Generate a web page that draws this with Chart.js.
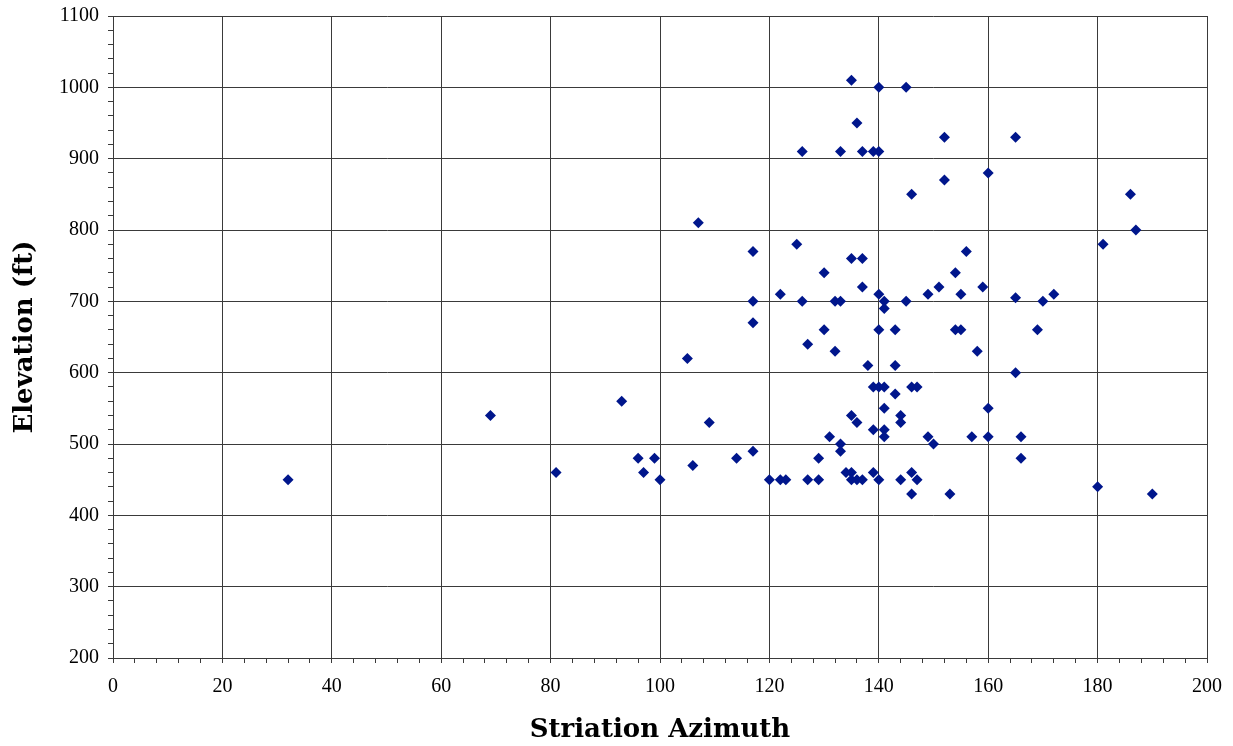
<!DOCTYPE html>
<html>
<head>
<meta charset="utf-8">
<script src="https://cdn.jsdelivr.net/npm/chart.js@4.4.1/dist/chart.umd.min.js"></script>
<style>
    html, body { margin: 0; padding: 0; background: #fff; }
    #wrap { width: 1233px; height: 746px; }
</style>
</head>
<body>
<div id="wrap"><canvas id="striationChart"></canvas></div>
<script>
// Striation azimuth (deg) and elevation (ft), read point by point
const azimuth = [
    32, 69, 81, 93, 96, 97, 99, 100, 105, 106, 107, 109, 114,
    117, 117, 117, 117, 120, 122, 123, 122, 125, 126, 126, 127, 127,
    129, 129, 130, 130, 131, 132, 132, 133, 133, 133, 133, 134,
    135, 135, 135, 135, 135, 136, 136, 136, 137, 137, 137, 137, 138,
    139, 139, 139, 139, 140, 140, 140, 140, 140, 140,
    141, 141, 141, 141, 141, 141, 143, 143, 143, 144, 144, 144,
    145, 145, 146, 146, 146, 146, 147, 147, 149, 149, 150, 151,
    152, 152, 153, 154, 154, 155, 155, 156, 157, 158, 159,
    160, 160, 160, 165, 165, 165, 166, 166, 169, 170, 172,
    180, 181, 186, 187, 190
];
const elevation = [
    450, 540, 460, 560, 480, 460, 480, 450, 620, 470, 810, 530, 480,
    490, 670, 700, 770, 450, 450, 450, 710, 780, 910, 700, 640, 450,
    480, 450, 740, 660, 510, 630, 700, 700, 910, 500, 490, 460,
    460, 450, 540, 760, 1010, 950, 530, 450, 910, 760, 720, 450, 610,
    910, 580, 520, 460, 910, 1000, 710, 660, 580, 450,
    700, 690, 580, 550, 520, 510, 660, 610, 570, 540, 530, 450,
    1000, 700, 850, 580, 460, 430, 580, 450, 710, 510, 500, 720,
    930, 870, 430, 740, 660, 710, 660, 770, 510, 630, 720,
    880, 550, 510, 930, 705, 600, 510, 480, 660, 700, 710,
    440, 780, 850, 800, 430
];

// Axis labels
const xTickLabels = [0, 20, 40, 60, 80, 100, 120, 140, 160, 180, 200];
const yTickLabels = [200, 300, 400, 500, 600, 700, 800, 900, 1000, 1100];
const xMinorStep = 4;
const yMinorStep = 20;

document.addEventListener("DOMContentLoaded", () => {
    const ctx = document.getElementById('striationChart').getContext('2d');

    const puntos = azimuth.map((az, i) => ({ x: az, y: elevation[i] }));

    // minor ticks every step, labels/grid only on the major ones
    function buildTicks(labels, step) {
        const out = [];
        const first = labels[0];
        const last = labels[labels.length - 1];
        for (let v = first; v <= last + 0.001; v += step) {
            out.push({ value: v });
        }
        return out;
    }

    const gridColor = '#3a3a3a';

    new Chart(ctx, {
        type: 'scatter',
        data: {
            datasets: [{
                label: 'Striations',
                data: puntos,
                pointStyle: 'rectRot',
                pointRadius: 5.5,
                pointHoverRadius: 5.5,
                backgroundColor: '#00168c',
                borderColor: '#00168c',
                borderWidth: 0
            }]
        },
        options: {
            responsive: true,
            maintainAspectRatio: false,
            animation: false,
            layout: { padding: { left: 0, right: 26, top: 16, bottom: 0 } },
            plugins: {
                legend: { display: false },
                tooltip: { enabled: false }
            },
            scales: {
                x: {
                    type: 'linear',
                    min: xTickLabels[0],
                    max: xTickLabels[xTickLabels.length - 1],
                    afterBuildTicks: scale => { scale.ticks = buildTicks(xTickLabels, xMinorStep); },
                    afterFit: scale => {
                        scale.height = 88;
                        scale.paddingLeft = 0;
                        scale.paddingRight = 0;
                    },
                    border: { color: gridColor, width: 1 },
                    grid: {
                        color: c => (xTickLabels.includes(c.tick.value) ? gridColor : 'rgba(0,0,0,0)'),
                        tickColor: gridColor,
                        tickLength: 5,
                        lineWidth: 1
                    },
                    ticks: {
                        autoSkip: false,
                        maxRotation: 0,
                        padding: 12,
                        color: '#000',
                        font: { family: 'Liberation Serif', size: 20 },
                        callback: v => (xTickLabels.includes(v) ? String(v) : '')
                    },
                    title: {
                        display: true,
                        text: 'Striation Azimuth',
                        color: '#000',
                        padding: { top: 0, bottom: 0 },
                        font: { family: 'DejaVu Serif', size: 26, weight: 'bold' }
                    }
                },
                y: {
                    type: 'linear',
                    min: yTickLabels[0],
                    max: yTickLabels[yTickLabels.length - 1],
                    afterBuildTicks: scale => { scale.ticks = buildTicks(yTickLabels, yMinorStep); },
                    afterFit: scale => {
                        scale.width = 113;
                        scale.paddingTop = 0;
                        scale.paddingBottom = 0;
                    },
                    border: { color: gridColor, width: 1 },
                    grid: {
                        color: c => (yTickLabels.includes(c.tick.value) ? gridColor : 'rgba(0,0,0,0)'),
                        tickColor: gridColor,
                        tickLength: 5,
                        lineWidth: 1
                    },
                    ticks: {
                        autoSkip: false,
                        padding: 9,
                        color: '#000',
                        font: { family: 'Liberation Serif', size: 20 },
                        callback: v => (yTickLabels.includes(v) ? String(v) : '')
                    },
                    title: {
                        display: true,
                        text: 'Elevation (ft)',
                        color: '#000',
                        padding: { top: 10, bottom: 0 },
                        font: { family: 'DejaVu Serif', size: 26, weight: 'bold' }
                    }
                }
            }
        }
    });
});
</script>
</body>
</html>
